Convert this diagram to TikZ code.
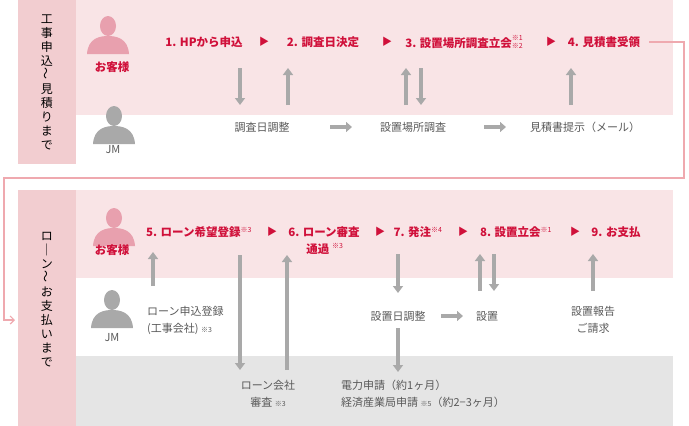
\documentclass[tikz,border=0pt]{standalone}
\usepackage{fontspec}
\setmainfont{Noto Sans CJK JP}
\usepackage{graphicx}
\usetikzlibrary{arrows.meta}
\definecolor{bandpink}{HTML}{F9E4E6}
\definecolor{labelpink}{HTML}{F2CDD0}
\definecolor{bandgray}{HTML}{E5E5E5}
\definecolor{steptext}{HTML}{D0103A}
\definecolor{flowgray}{HTML}{A9A9A9}
\definecolor{iconpink}{HTML}{E8A0AE}
\definecolor{linkpink}{HTML}{EFA9AF}
\newcommand{\note}[1]{\textsuperscript{\mdseries\fontsize{7}{7}\selectfont ※#1}}
\newcommand{\tilt}{\rotatebox{90}{〜}}
\tikzset{
  stepnode/.style={text=steptext, font=\bfseries\fontsize{11.5}{14}\selectfont, inner sep=1pt},
  jmnode/.style={text=black!65, font=\fontsize{11}{17}\selectfont, align=center, inner sep=1pt},
  tagnode/.style={font=\fontsize{12}{14}\selectfont, align=center, inner sep=0pt},
  sepmark/.style={text=steptext, font=\fontsize{10}{10}\selectfont, inner sep=0pt},
  flow/.style={flowgray, line width=3.2pt, -{Triangle[length=7pt,width=10pt]}},
  flat/.style={flowgray, line width=4pt, -{Triangle[length=6pt,width=10pt]}}
}
\newcommand{\person}[3]{% x, y, colour
  \fill[#3] (#1,#2) ellipse (8 and 10);
  \fill[#3] (#1-21,#2+28) .. controls (#1-20,#2+12) and (#1-8,#2+10) .. (#1,#2+10)
    .. controls (#1+8,#2+10) and (#1+20,#2+12) .. (#1+21,#2+28) -- cycle;
}
\begin{document}
\begin{tikzpicture}[x=1pt,y=-1pt]
  \useasboundingbox (0,0) rectangle (689,426);
  % bands
  \fill[labelpink] (18,0) rectangle (76,164);
  \fill[bandpink] (76,0) rectangle (673,115);
  \fill[labelpink] (18,190) rectangle (76,426);
  \fill[bandpink] (76,190) rectangle (673,278);
  \fill[bandgray] (76,356) rectangle (673,426);
  % section labels
  \node[tagnode] (sec1) at (47,82) {工\\事\\申\\込\\\tilt\\見\\積\\り\\ま\\で};
  \node[tagnode] (sec2) at (47,300) {ロ\\｜\\ン\\\tilt\\お\\支\\払\\い\\ま\\で};
  % icons
  \person{108}{26}{iconpink}
  \node[stepnode] (cust1) at (112,67) {お客様};
  \person{114}{116}{flowgray}
  \node[jmnode] (jm1) at (113,150) {JM};
  \person{114}{218}{iconpink}
  \node[stepnode] (cust2) at (112,250) {お客様};
  \person{112}{300}{flowgray}
  \node[jmnode] (jm2) at (112,338) {JM};
  % steps 1-4
  \node[stepnode] (s1) at (204,42) {1. HPから申込};
  \node[sepmark] at (264,42) {▶};
  \node[stepnode] (s2) at (323,42) {2. 調査日決定};
  \node[sepmark] at (387,42) {▶};
  \node[stepnode] (s3) at (464,42) {3. 設置場所調査立会\raisebox{-1pt}{\shortstack[l]{\mdseries\fontsize{7}{7}\selectfont ※1\\[-1pt]\mdseries\fontsize{7}{7}\selectfont ※2}}};
  \node[sepmark] at (551,42) {▶};
  \node[stepnode] (s4) at (604,42) {4. 見積書受領};
  \node[jmnode] (a1) at (262,127) {調査日調整};
  \node[jmnode] (a2) at (413,127) {設置場所調査};
  \node[jmnode] (a3) at (585,127) {見積書提示（メール）};
  \coordinate (f1) at (330,127); \coordinate (f2) at (352,127);
  \coordinate (f3) at (484,127); \coordinate (f4) at (506,127);
  \draw[flat] (f1) -- (f2);
  \draw[flat] (f3) -- (f4);
  \draw[flow] (240,68) -- (240,105);
  \draw[flow] (288,105) -- (288,68);
  \draw[flow] (406,105) -- (406,68);
  \draw[flow] (421,68) -- (421,105);
  \draw[flow] (571,105) -- (571,68);
  % link between sections
  \draw[linkpink, line width=1.2pt, -{Straight Barb[length=4pt,width=8pt]}]
    (s4.east) ++(8,0) -- (684,42) -- (684,178) -- (4,178) -- (4,320) -- (15,320);
  % steps 5-9
  \node[stepnode] (s5) at (199,232) {5. ローン希望登録\note{3}};
  \node[sepmark] at (272,232) {▶};
  \node[stepnode] (s6) at (324,232) {6. ローン審査};
  \node[stepnode] (s6b) at (325,249) {通過 \note{3}};
  \node[sepmark] at (380,232) {▶};
  \node[stepnode] (s7) at (418,232) {7. 発注\note{4}};
  \node[sepmark] at (463,232) {▶};
  \node[stepnode] (s8) at (516,232) {8. 設置立会\note{1}};
  \node[sepmark] at (575,232) {▶};
  \node[stepnode] (s9) at (616,232) {9. お支払};
  \node[jmnode, align=left, anchor=west] (b1) at (146,320) {ローン申込登録\\(工事会社) {\fontsize{7}{7}\selectfont ※3}};
  \node[jmnode] (b2) at (398,316) {設置日調整};
  \node[jmnode] (b3) at (487,316) {設置};
  \node[jmnode] (b4) at (593,320) {設置報告\\ご請求};
  \node[jmnode] (c1) at (268,394) {ローン会社\\審査 {\fontsize{7}{7}\selectfont ※3}};
  \node[jmnode, align=left, anchor=west] (c2) at (340,394) {電力申請（約1ヶ月）\\経済産業局申請 {\fontsize{7}{7}\selectfont ※5}（約2−3ヶ月）};
  \coordinate (g1) at (441,316); \coordinate (g2) at (463,316);
  \draw[flat] (g1) -- (g2);
  \draw[flow] (153,286) -- (153,252);
  \draw[flow] (240,255) -- (240,370);
  \draw[flow] (287,370) -- (287,255);
  \draw[flow] (398,254) -- (398,293);
  \draw[flow] (480,291) -- (480,254);
  \draw[flow] (494,254) -- (494,291);
  \draw[flow] (593,291) -- (593,254);
  \draw[flow] (b2.south) ++(0,6) -- (398,372);
\end{tikzpicture}
\end{document}
